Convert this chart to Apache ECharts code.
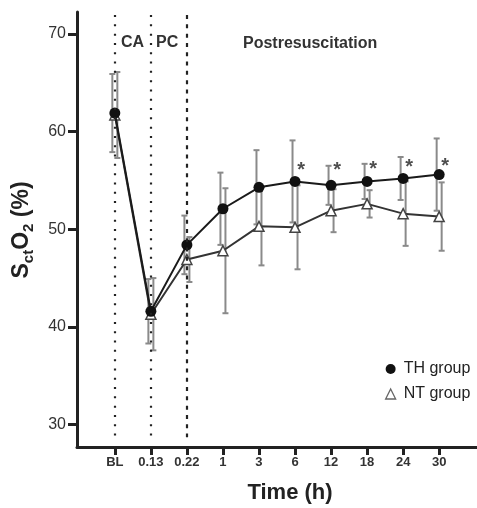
<!DOCTYPE html>
<html>
<head>
<meta charset="utf-8">
<script src="https://cdn.jsdelivr.net/npm/echarts@6/dist/echarts.min.js"></script>
<style>html,body{margin:0;padding:0;background:#fff}#c{width:477px;height:508px}</style>
</head>
<body>
<div id="c"></div>
<script>
// ---- data ----
const categories = ['BL', '0.13', '0.22', '1', '3', '6', '12', '18', '24', '30'];
const thMean = [61.9, 41.6, 48.4, 52.1, 54.3, 54.9, 54.5, 54.9, 55.2, 55.6];
const thSD   = [4.0, 3.3, 3.0, 3.7, 3.8, 4.2, 2.0, 1.8, 2.2, 3.7];
const ntMean = [61.7, 41.3, 46.9, 47.8, 50.3, 50.2, 51.9, 52.6, 51.6, 51.3];
const ntSD   = [4.4, 3.7, 2.3, 6.4, 4.0, 4.3, 2.2, 1.4, 3.3, 3.5];
const sigIdx = [5, 6, 7, 8, 9];
const starLevel = [56.5, 56.5, 56.6, 56.8, 56.9];
const yTicks = [30, 40, 50, 60, 70];
const phaseLines = [0, 1, 2];

const FONT = "'Liberation Sans', Arial, Helvetica, sans-serif";
const chart = echarts.init(document.getElementById('c'));

function errBar(offset) {
  return function (params, api) {
    const x = api.value(0), m = api.value(1), sd = api.value(2);
    const top = api.coord([x, m + sd]);
    const bot = api.coord([x, m - sd]);
    const px = top[0] + offset;
    const st = { stroke: '#8a8a8a', lineWidth: 2 };
    return {
      type: 'group',
      children: [
        { type: 'line', shape: { x1: px, y1: top[1], x2: px, y2: bot[1] }, style: st },
        { type: 'line', shape: { x1: px - 3, y1: top[1], x2: px + 3, y2: top[1] }, style: st },
        { type: 'line', shape: { x1: px - 3, y1: bot[1], x2: px + 3, y2: bot[1] }, style: st }
      ]
    };
  };
}

const dotted = { type: [2, 7.3], width: 2.2, color: '#222' };
const dashed = { type: [4, 5.3], width: 2.2, color: '#222' };

chart.setOption({
  animation: false,
  textStyle: { fontFamily: FONT },
  grid: { left: 77, right: 0, top: 12, bottom: 61 },
  xAxis: {
    type: 'value', min: -1.05, max: 10.05,
    axisLine: { onZero: false, lineStyle: { color: '#222', width: 3 } },
    axisTick: { show: true, length: 8, lineStyle: { color: '#222', width: 3 }, customValues: categories.map((c, i) => i) },
    axisLabel: { customValues: categories.map((c, i) => i), formatter: v => categories[v], fontSize: 13, fontWeight: 'bold', color: '#333', margin: 9, fontFamily: FONT },
    splitLine: { show: false }
  },
  yAxis: {
    type: 'value', min: 27.7, max: 72.25,
    axisLine: { show: true, onZero: false, lineStyle: { color: '#222', width: 3 } },
    axisTick: { show: true, length: 9, lineStyle: { color: '#222', width: 3 }, customValues: yTicks },
    axisLabel: { customValues: yTicks, fontSize: 16, color: '#333', margin: 11, fontFamily: FONT },
    splitLine: { show: false }
  },
  legend: {
    orient: 'vertical', left: 380, top: 356, itemWidth: 10, itemHeight: 10, itemGap: 9,
    textStyle: { fontSize: 16, color: '#222', padding: [0, 0, 0, 3], fontFamily: FONT },
    data: [
      { name: 'TH group', icon: 'circle', itemStyle: { color: '#111', borderWidth: 0 } },
      { name: 'NT group', icon: 'triangle', itemStyle: { color: '#fff', borderColor: '#666', borderWidth: 1.3 } }
    ]
  },
  graphic: [
    { type: 'text', left: 121, top: 35, style: { text: 'CA', fontSize: 16, fontWeight: 'bold', fill: '#333', fontFamily: FONT } },
    { type: 'text', left: 156, top: 35, style: { text: 'PC', fontSize: 16, fontWeight: 'bold', fill: '#333', fontFamily: FONT } },
    { type: 'text', left: 243, top: 36, style: { text: 'Postresuscitation', fontSize: 16, fontWeight: 'bold', fill: '#333', fontFamily: FONT } },
    { type: 'text', x: 290, y: 493, style: { text: 'Time (h)', fontSize: 22, fontWeight: 'bold', fill: '#222', align: 'center', verticalAlign: 'middle', fontFamily: FONT } },
    {
      type: 'text', x: 22, y: 230, rotation: Math.PI / 2,
      style: {
        text: '{b|S}{s|ct}{b|O}{s|2}{b| (%)}', align: 'center', verticalAlign: 'middle', fill: '#222', fontFamily: FONT,
        rich: {
          b: { fontSize: 23, fontWeight: 'bold', lineHeight: 23, verticalAlign: 'top', fill: '#222', fontFamily: FONT },
          s: { fontSize: 15, fontWeight: 'bold', lineHeight: 15, padding: [11, 0, 0, 0], verticalAlign: 'top', fill: '#222', fontFamily: FONT }
        }
      }
    }
  ],
  series: [
    {
      type: 'line', name: 'phases', data: [], silent: true, z: 1,
      markLine: {
        silent: true, symbol: 'none', label: { show: false },
        data: phaseLines.map((x, k) => [
          { coord: [x, 71.94], lineStyle: k < 2 ? dotted : dashed },
          { coord: [x, 28.7] }
        ])
      }
    },
    { type: 'custom', name: 'TH err', renderItem: errBar(-2.5), data: thMean.map((m, i) => [i, m, thSD[i]]), z: 2, silent: true },
    { type: 'custom', name: 'NT err', renderItem: errBar(2.5), data: ntMean.map((m, i) => [i, m, ntSD[i]]), z: 2, silent: true },
    {
      type: 'line', name: 'NT group', data: ntMean.map((m, i) => [i, m]), z: 3,
      symbol: 'triangle', symbolSize: 10,
      lineStyle: { color: '#333', width: 2 },
      itemStyle: { color: '#fff', borderColor: '#444', borderWidth: 1.5 }
    },
    {
      type: 'line', name: 'TH group', data: thMean.map((m, i) => [i, m]), z: 4,
      symbol: 'circle', symbolSize: 11,
      lineStyle: { color: '#1a1a1a', width: 2 },
      itemStyle: { color: '#111', borderWidth: 0 }
    },
    {
      type: 'scatter', name: 'sig', data: sigIdx.map((i, k) => [i, starLevel[k]]), z: 5,
      symbolSize: 1, itemStyle: { color: 'rgba(0,0,0,0)' }, silent: true,
      label: { show: true, formatter: '*', position: 'inside', offset: [6, 5], fontSize: 20, fontWeight: 'bold', color: '#222', fontFamily: FONT }
    }
  ]
});
</script>
</body>
</html>
